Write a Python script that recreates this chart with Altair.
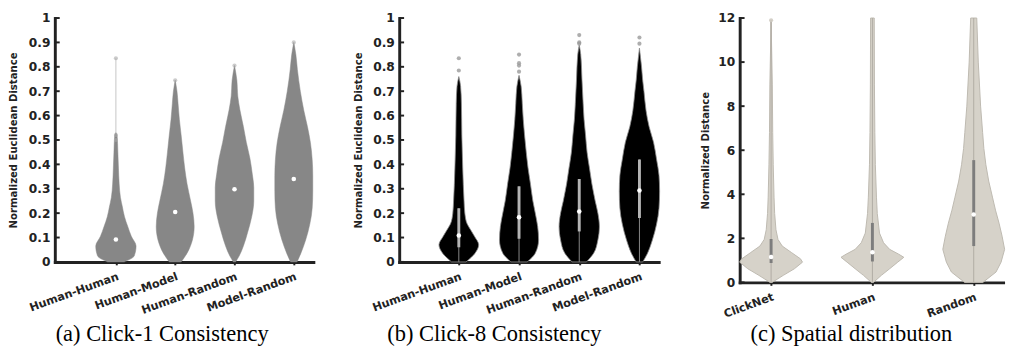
import altair as alt
import pandas as pd

# ---------------- data ----------------
CATS_AB = ["Human-Human", "Human-Model", "Human-Random", "Model-Random"]
CATS_C = ["ClickNet", "Human", "Random"]

# Panel (a) Click-1: violin profiles (value level, half width in category units)
A_HH_V = [0, 0.025, 0.065, 0.105, 0.145, 0.185, 0.225, 0.265, 0.32, 0.385, 0.45, 0.52, 0.53]
A_HH_W = [0.14, 0.31, 0.34, 0.26, 0.2, 0.145, 0.11, 0.076, 0.055, 0.043, 0.033, 0.02, 0.0]
A_HM_V = [0, 0.036, 0.09, 0.145, 0.2, 0.25, 0.32, 0.385, 0.45, 0.52, 0.585, 0.65, 0.7, 0.745]
A_HM_W = [0.1, 0.2, 0.29, 0.32, 0.3, 0.26, 0.2, 0.16, 0.13, 0.1, 0.07, 0.048, 0.03, 0.0]
A_HR_V = [0, 0.025, 0.065, 0.12, 0.185, 0.25, 0.305, 0.36, 0.425, 0.49, 0.555, 0.625, 0.68, 0.745, 0.805]
A_HR_W = [0.02, 0.08, 0.15, 0.22, 0.29, 0.325, 0.325, 0.3, 0.26, 0.2, 0.15, 0.09, 0.055, 0.04, 0.0]
A_MR_V = [0, 0.036, 0.09, 0.155, 0.22, 0.29, 0.355, 0.42, 0.49, 0.555, 0.62, 0.7, 0.79, 0.85, 0.9]
A_MR_W = [0.055, 0.12, 0.2, 0.27, 0.31, 0.32, 0.32, 0.31, 0.28, 0.23, 0.17, 0.11, 0.06, 0.035, 0.0]
A_MEDIAN = [0.092, 0.205, 0.298, 0.34]
A_WHISK_TOP = [0.835, 0.745, 0.805, 0.9]
A_OUT_CAT = [0, 0, 0, 1, 2, 3]
A_OUT_VAL = [0.835, 0.52, 0.50, 0.745, 0.805, 0.9]

# Panel (b) Click-8
B_HH_V = [0, 0.036, 0.07, 0.105, 0.13, 0.155, 0.2, 0.25, 0.385, 0.52, 0.65, 0.72, 0.76]
B_HH_W = [0.12, 0.27, 0.33, 0.26, 0.2, 0.14, 0.1, 0.087, 0.065, 0.05, 0.043, 0.03, 0.0]
B_HM_V = [0, 0.036, 0.09, 0.145, 0.2, 0.25, 0.32, 0.385, 0.45, 0.52, 0.585, 0.65, 0.72, 0.765]
B_HM_W = [0.135, 0.27, 0.325, 0.31, 0.27, 0.23, 0.19, 0.15, 0.12, 0.092, 0.07, 0.054, 0.035, 0.0]
B_HR_V = [0, 0.036, 0.09, 0.145, 0.2, 0.25, 0.32, 0.385, 0.45, 0.52, 0.585, 0.65, 0.75, 0.85, 0.89]
B_HR_W = [0.12, 0.24, 0.31, 0.335, 0.31, 0.265, 0.21, 0.17, 0.13, 0.105, 0.08, 0.065, 0.045, 0.025, 0.0]
B_MR_V = [0, 0.036, 0.09, 0.155, 0.22, 0.29, 0.355, 0.42, 0.49, 0.555, 0.62, 0.7, 0.745, 0.8, 0.877]
B_MR_W = [0.055, 0.135, 0.215, 0.285, 0.325, 0.335, 0.325, 0.285, 0.235, 0.16, 0.11, 0.075, 0.054, 0.035, 0.0]
B_MEDIAN = [0.108, 0.183, 0.207, 0.293]
B_Q1 = [0.06, 0.095, 0.125, 0.18]
B_Q3 = [0.22, 0.31, 0.34, 0.42]
B_OUT_CAT = [0, 0, 1, 1, 1, 1, 2, 2, 2, 3, 3]
B_OUT_VAL = [0.835, 0.785, 0.85, 0.815, 0.805, 0.78, 0.93, 0.90, 0.895, 0.92, 0.895]

# Panel (c) Spatial distribution
C_CN_V = [0, 0.32, 0.62, 0.92, 1.07, 1.36, 1.65, 1.95, 2.39, 3.13, 3.87, 5.34, 6.8, 9.0, 11.9]
C_CN_W = [0.01, 0.12, 0.23, 0.31, 0.29, 0.2, 0.11, 0.068, 0.048, 0.035, 0.029, 0.021, 0.016, 0.012, 0.0]
C_HU_V = [0, 0.32, 0.62, 0.92, 1.14, 1.28, 1.5, 1.8, 2.24, 3.13, 3.87, 5.34, 6.8, 9.0, 12.0]
C_HU_W = [0.01, 0.088, 0.17, 0.25, 0.31, 0.26, 0.17, 0.11, 0.07, 0.048, 0.04, 0.029, 0.024, 0.02, 0.018]
C_RA_V = [0, 0.47, 0.92, 1.5, 2.1, 2.69, 3.28, 3.87, 4.6, 5.34, 6.08, 6.8, 8.0, 10.0, 12.0]
C_RA_W = [0.09, 0.22, 0.27, 0.305, 0.28, 0.25, 0.215, 0.185, 0.148, 0.12, 0.1, 0.088, 0.068, 0.045, 0.03]
C_MEDIAN = [1.15, 1.37, 3.08]
C_Q1 = [0.88, 0.95, 1.65]
C_Q3 = [1.97, 2.7, 5.55]
C_WHISK_TOP = [11.9, 12.0, 12.0]
C_OUT_CAT = [0]
C_OUT_VAL = [11.9]

YTICKS_AB = [0, 0.1, 0.2, 0.3, 0.4, 0.5, 0.6, 0.7, 0.8, 0.9, 1]
YTICKS_C = [0, 2, 4, 6, 8, 10, 12]

CAPTIONS = ["(a) Click-1 Consistency", "(b) Click-8 Consistency", "(c) Spatial distribution"]
YTITLES = ["Normalized Euclidean Distance", "Normalized Euclidean Distance", "Normalized Distance"]

# ---------------- helpers ----------------
def profile_df(pairs):
    rows = []
    for i, (vs, ws) in enumerate(pairs):
        for v, w in zip(vs, ws):
            rows.append({"pos": i, "v": v, "hw": w})
    return pd.DataFrame(rows)


def stats_df(n, **cols):
    d = {"pos": list(range(n))}
    d.update(cols)
    return pd.DataFrame(d)


LABEL_FONT = "DejaVu Sans"
TITLE_FONT = "DejaVu Sans Condensed, Liberation Sans Narrow, Roboto, sans-serif"
DARK = "#222222"


def panel(cats, prof, stats, out, yticks, ydom, xdom, width, height, caption,
          ytitle, cap_x, cap_y, yextent, ytitle_pad, fill, stroke, stroke_w, interp,
          whisk_color, box_color, point_color, point_opacity):
    n = len(cats)
    names = "[" + ",".join("'%s'" % c for c in cats) + "]"
    xscale = alt.Scale(domain=xdom, nice=False, zero=False)
    yscale = alt.Scale(domain=ydom, nice=False, zero=False)
    yaxis = alt.Axis(values=yticks, format="~g", title=ytitle, titleFont=TITLE_FONT,
                     titleFontSize=11.5, titleFontWeight="bold", titleColor=DARK,
                     titlePadding=ytitle_pad, labelFont=LABEL_FONT, labelFontWeight="bold",
                     labelFontSize=12.5, labelColor=DARK, labelPadding=5, tickSize=0,
                     domainColor=DARK, domainWidth=3, domainCap="square", grid=False,
                     labelFlush=False, labelOverlap=False,
                     minExtent=yextent, maxExtent=yextent)
    xaxis = alt.Axis(values=list(range(n)), labelExpr=names + "[datum.value]",
                     labelAngle=340, labelAlign="right", labelBaseline="top",
                     labelFont=LABEL_FONT, labelFontWeight="bold", labelFontSize=11.5,
                     labelColor=DARK, labelPadding=6, tickSize=3, tickWidth=2,
                     tickColor=DARK, domainColor=DARK, domainWidth=3, domainCap="square",
                     grid=False, labelFlush=False, labelOverlap=False,
                     title=caption, titleFont="Liberation Serif", titleFontSize=23,
                     titleFontWeight="normal", titleColor="black", titleX=cap_x,
                     titleY=cap_y, titleAlign="center", titleBaseline="alphabetic",
                     titleAngle=0)

    def X(f):
        return alt.X(f, scale=xscale, axis=xaxis)

    def Y(f):
        return alt.Y(f, scale=yscale, axis=yaxis)

    whisk = alt.Chart(stats).mark_rule(color=whisk_color, strokeWidth=1).encode(
        x=X("pos:Q"), y=Y("wlo:Q"), y2="whi:Q")

    area = alt.Chart(prof).transform_calculate(
        lo="datum.pos - datum.hw", hi="datum.pos + datum.hw"
    ).mark_area(orient="horizontal", interpolate=interp, fill=fill, stroke=stroke,
                strokeWidth=stroke_w, opacity=1).encode(
        y=Y("v:Q"), x=X("lo:Q"), x2="hi:Q", detail="pos:N")

    layers = [whisk, area]

    if box_color is not None:
        layers.append(alt.Chart(stats).mark_rule(color=whisk_color, strokeWidth=1).encode(
            x=X("pos:Q"), y=Y("wlo:Q"), y2="whi:Q"))
        layers.append(alt.Chart(stats).mark_rule(color=box_color, strokeWidth=3).encode(
            x=X("pos:Q"), y=Y("q1:Q"), y2="q3:Q"))

    layers.append(alt.Chart(out).mark_point(filled=True, shape="circle", size=18,
                                            color=point_color, opacity=point_opacity).encode(
        x=X("pos:Q"), y=Y("val:Q")))

    layers.append(alt.Chart(stats).mark_point(filled=True, shape="circle", size=22,
                                              color="white", opacity=1).encode(
        x=X("pos:Q"), y=Y("med:Q")))

    tick_df = pd.DataFrame({"t": yticks})
    layers.append(alt.Chart(tick_df).mark_rule(color=DARK, strokeWidth=2).encode(
        y=Y("t:Q"), x=alt.value(0), x2=alt.value(5)))

    return alt.layer(*layers).properties(width=width, height=height)


# ---------------- panels ----------------
prof_a = profile_df([(A_HH_V, A_HH_W), (A_HM_V, A_HM_W), (A_HR_V, A_HR_W), (A_MR_V, A_MR_W)])
stats_a = stats_df(4, med=A_MEDIAN, wlo=[0, 0, 0, 0], whi=A_WHISK_TOP,
                   q1=A_MEDIAN, q3=A_MEDIAN)
out_a = pd.DataFrame({"pos": A_OUT_CAT, "val": A_OUT_VAL})

prof_b = profile_df([(B_HH_V, B_HH_W), (B_HM_V, B_HM_W), (B_HR_V, B_HR_W), (B_MR_V, B_MR_W)])
stats_b = stats_df(4, med=B_MEDIAN, wlo=[0, 0, 0, 0], whi=B_Q3, q1=B_Q1, q3=B_Q3)
out_b = pd.DataFrame({"pos": B_OUT_CAT, "val": B_OUT_VAL})

prof_c = profile_df([(C_CN_V, C_CN_W), (C_HU_V, C_HU_W), (C_RA_V, C_RA_W)])
stats_c = stats_df(3, med=C_MEDIAN, wlo=[0, 0, 0], whi=C_WHISK_TOP, q1=C_Q1, q3=C_Q3)
out_c = pd.DataFrame({"pos": C_OUT_CAT, "val": C_OUT_VAL})

pa = panel(CATS_AB, prof_a, stats_a, out_a, YTICKS_AB, [0, 1], [-1.03, 3.33], 265, 250,
           CAPTIONS[0], YTITLES[0], 109.5, 81, 29, 8, "#878787", "#878787", 0.5, "monotone",
           "#c4c4c4", None, "#a8a8a8", 0.6)
pb = panel(CATS_AB, prof_b, stats_b, out_b, YTICKS_AB, [0, 1], [-0.99, 3.32], 266, 250,
           CAPTIONS[1], YTITLES[1], 97, 81, 29, 8, "#000000", "#8c8c8c", 0.8, "monotone",
           "#8a8a8a", "#b4b4b4", "#9a9a9a", 0.8)
pc = panel(CATS_C, prof_c, stats_c, out_c, YTICKS_C, [0, 12], [-0.31, 2.29], 270, 271,
           CAPTIONS[2], YTITLES[2], 114, 60, 22, 8, "#d6d2c9", "#bdb9b0", 1, "linear",
           "#b0aca3", "#7d7d7d", "#cfcbc2", 0.9)

chart = alt.hconcat(pa, pb, pc, spacing=39).properties(padding=0).configure_view(stroke=None)

chart.save("out.html", embed_options={"renderer": "svg", "actions": False})
